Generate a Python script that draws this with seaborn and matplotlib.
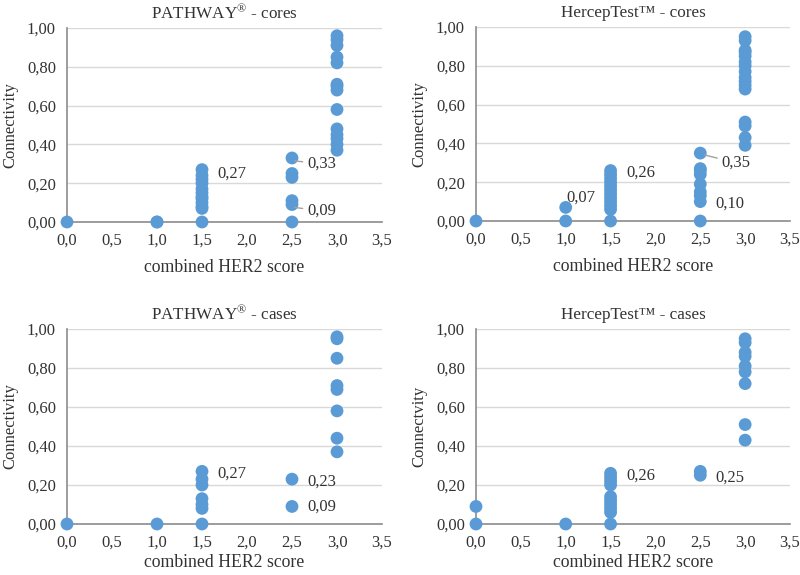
import matplotlib
matplotlib.use("Agg")
import matplotlib.pyplot as plt
import seaborn as sns
import pandas as pd
from matplotlib.ticker import FuncFormatter

# ---- data ----
p_cores_x = [0.0, 1.0, 1.0,
             1.5, 1.5, 1.5, 1.5, 1.5, 1.5, 1.5, 1.5, 1.5, 1.5, 1.5, 1.5,
             2.5, 2.5, 2.5, 2.5, 2.5, 2.5,
             3.0, 3.0, 3.0, 3.0, 3.0, 3.0, 3.0, 3.0, 3.0, 3.0, 3.0, 3.0, 3.0, 3.0]
p_cores_y = [0.0, 0.0, 0.0,
             0.0, 0.07, 0.08, 0.10, 0.12, 0.13, 0.15, 0.17, 0.20, 0.22, 0.24, 0.27,
             0.0, 0.09, 0.11, 0.23, 0.25, 0.33,
             0.37, 0.40, 0.43, 0.45, 0.48, 0.58, 0.68, 0.70, 0.71, 0.82, 0.85, 0.91, 0.94, 0.96]

h_cores_x = [0.0, 1.0, 1.0,
             1.5, 1.5, 1.5, 1.5, 1.5, 1.5, 1.5, 1.5, 1.5, 1.5, 1.5, 1.5,
             2.5, 2.5, 2.5, 2.5, 2.5, 2.5, 2.5, 2.5, 2.5,
             3.0, 3.0, 3.0, 3.0, 3.0, 3.0, 3.0, 3.0, 3.0, 3.0, 3.0, 3.0, 3.0, 3.0, 3.0, 3.0]
h_cores_y = [0.0, 0.0, 0.07,
             0.0, 0.06, 0.08, 0.10, 0.12, 0.14, 0.16, 0.18, 0.20, 0.22, 0.24, 0.26,
             0.0, 0.10, 0.13, 0.15, 0.19, 0.24, 0.26, 0.27, 0.35,
             0.39, 0.43, 0.49, 0.51, 0.68, 0.70, 0.72, 0.74, 0.77, 0.80, 0.82, 0.85, 0.87, 0.88, 0.93, 0.95]

p_cases_x = [0.0, 1.0,
             1.5, 1.5, 1.5, 1.5, 1.5, 1.5, 1.5,
             2.5, 2.5,
             3.0, 3.0, 3.0, 3.0, 3.0, 3.0, 3.0, 3.0]
p_cases_y = [0.0, 0.0,
             0.0, 0.08, 0.10, 0.13, 0.20, 0.23, 0.27,
             0.09, 0.23,
             0.37, 0.44, 0.58, 0.69, 0.71, 0.85, 0.95, 0.96]

h_cases_x = [0.0, 0.0, 1.0,
             1.5, 1.5, 1.5, 1.5, 1.5, 1.5, 1.5, 1.5, 1.5, 1.5,
             2.5, 2.5,
             3.0, 3.0, 3.0, 3.0, 3.0, 3.0, 3.0, 3.0, 3.0]
h_cases_y = [0.0, 0.09, 0.0,
             0.0, 0.06, 0.08, 0.10, 0.12, 0.14, 0.20, 0.22, 0.24, 0.26,
             0.25, 0.27,
             0.43, 0.51, 0.72, 0.78, 0.81, 0.86, 0.88, 0.93, 0.95]

titles = ["PATHWAY$^{®}$ - cores", "HercepTest™ - cores", "PATHWAY$^{®}$ - cases", "HercepTest™ - cases"]
ylabels = ["Connectivity", "Connectivity", "Connectivity", "Connectvity"]
xlabel = "combined HER2 score"

# annotations: (text, x, y, leader_from or None)
notes = [
    [("0,27", 1.667, 0.25, None), ("0,33", 2.67, 0.30, (2.53, 0.315)), ("0,09", 2.67, 0.057, (2.53, 0.075))],
    [("0,07", 1.01, 0.12, None), ("0,26", 1.68, 0.25, None), ("0,35", 2.74, 0.30, (2.55, 0.34)), ("0,10", 2.67, 0.09, None)],
    [("0,27", 1.667, 0.26, None), ("0,23", 2.67, 0.215, None), ("0,09", 2.67, 0.087, None)],
    [("0,26", 1.68, 0.25, None), ("0,25", 2.67, 0.24, None)],
]

sns.set_style("white")
plt.rcParams['font.family'] = ['Liberation Serif', 'DejaVu Serif']
plt.rcParams['mathtext.fontset'] = 'custom'
plt.rcParams['mathtext.rm'] = 'Liberation Serif'
plt.rcParams['mathtext.it'] = 'Liberation Serif'
plt.rcParams['mathtext.default'] = 'rm'

fig = plt.figure(figsize=(8, 5.75), dpi=100)
boxes = [
    [67/800, (575-222)/575, 315/800, 194/575],
    [476/800, (575-221)/575, 314/800, 194/575],
    [67/800, (575-524)/575, 315/800, 195/575],
    [476/800, (575-524)/575, 314/800, 195/575],
]
datasets = [(p_cores_x, p_cores_y), (h_cores_x, h_cores_y), (p_cases_x, p_cases_y), (h_cases_x, h_cases_y)]
color = "#5B9BD5"
txtc = "#333333"

for i, (box, (xs, ys)) in enumerate(zip(boxes, datasets)):
    ax = fig.add_axes(box)
    df = pd.DataFrame({"x": xs, "y": ys})
    sns.scatterplot(data=df, x="x", y="y", ax=ax, color=color, s=85, edgecolor="none",
                    linewidth=0, clip_on=False, zorder=3)
    ax.set_xlim(0, 3.5)
    ax.set_ylim(0, 1.0)
    ax.set_xticks([0, 0.5, 1.0, 1.5, 2.0, 2.5, 3.0, 3.5])
    ax.set_yticks([0, 0.2, 0.4, 0.6, 0.8, 1.0])
    ax.xaxis.set_major_formatter(FuncFormatter(lambda v, p: f"{v:.1f}".replace(".", ",")))
    ax.yaxis.set_major_formatter(FuncFormatter(lambda v, p: f"{v:.2f}".replace(".", ",")))
    ax.tick_params(axis="both", length=0, labelsize=12, colors=txtc)
    ax.tick_params(axis="x", pad=8)
    ax.tick_params(axis="y", pad=8)
    ax.grid(axis="y", color="#d9d9d9", linewidth=1)
    ax.grid(axis="x", visible=False)
    for s in ["top", "right"]:
        ax.spines[s].set_visible(False)
    for s in ["left", "bottom"]:
        ax.spines[s].set_color("#8c8c8c")
        ax.spines[s].set_linewidth(1.2)
    ax.set_axisbelow(True)
    ax.set_title(titles[i], fontsize=12.3, color=txtc, pad=7)
    ax.set_xlabel(xlabel, fontsize=12.8, color=txtc, labelpad=7 if i < 2 else 2)
    ax.set_ylabel(ylabels[i], fontsize=12, color=txtc, labelpad=6)
    for (t, tx, ty, lead) in notes[i]:
        if lead is None:
            ax.text(tx, ty, t, fontsize=12, color=txtc, va="center", ha="left")
        else:
            ax.annotate(t, xy=lead, xytext=(tx, ty), fontsize=12, color=txtc,
                        va="center", ha="left",
                        arrowprops=dict(arrowstyle="-", color="#a0a0a0", lw=1,
                                        shrinkA=1, shrinkB=0))

fig.savefig("out.png", dpi=100)
